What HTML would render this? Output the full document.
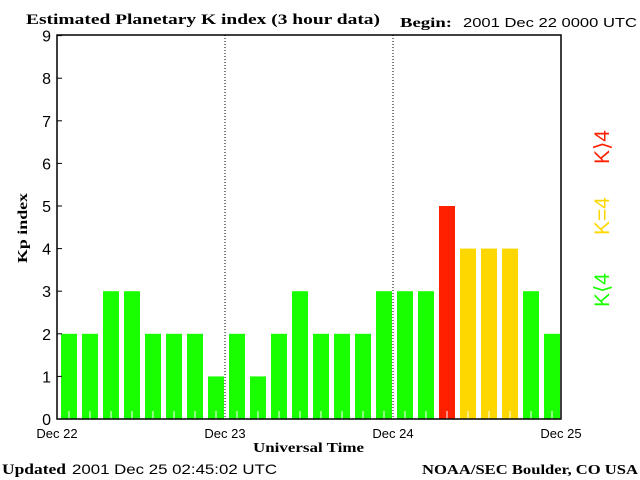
<!DOCTYPE html>
<html><head><meta charset="utf-8"><style>
body{margin:0;background:#fff;width:640px;height:480px;overflow:hidden}
svg{display:block}
.serif{font-family:"Liberation Serif",serif;font-weight:bold}
.sans{font-family:"Liberation Sans",sans-serif}
</style></head><body>
<svg width="640" height="480">
<text x="26" y="24" class="serif" font-size="15" textLength="354" lengthAdjust="spacingAndGlyphs">Estimated Planetary K index (3 hour data)</text>
<text x="400" y="27" class="serif" font-size="14" textLength="52" lengthAdjust="spacingAndGlyphs">Begin:</text>
<text x="463" y="27" class="sans" font-size="13" textLength="174" lengthAdjust="spacingAndGlyphs">2001 Dec 22 0000 UTC</text>
<g id="plot"></g>
<text transform="translate(27,228) rotate(-90)" text-anchor="middle" class="serif" font-size="14" textLength="70" lengthAdjust="spacingAndGlyphs">Kp index</text>
<text x="253" y="452" class="serif" font-size="14" textLength="111" lengthAdjust="spacingAndGlyphs">Universal Time</text>
<text x="2" y="474" class="serif" font-size="15" textLength="64" lengthAdjust="spacingAndGlyphs">Updated</text>
<text x="72" y="474" class="sans" font-size="14" textLength="205" lengthAdjust="spacingAndGlyphs">2001 Dec 25 02:45:02 UTC</text>
<text x="422" y="474" class="serif" font-size="14" textLength="216" lengthAdjust="spacingAndGlyphs">NOAA/SEC Boulder, CO USA</text>
<text transform="translate(609,290) rotate(-90)" text-anchor="middle" class="sans" font-size="21" fill="#1aff00">K⟨4</text>
<text transform="translate(609,216) rotate(-90)" text-anchor="middle" class="sans" font-size="21" fill="#ffd700">K=4</text>
<text transform="translate(609,147) rotate(-90)" text-anchor="middle" class="sans" font-size="21" fill="#ff2000">K⟩4</text>
</svg>
<script>
const kpValues=[2,2,3,3,2,2,2,1, 2,1,2,3,2,2,2,3, 3,3,5,4,4,4,3,2];
const dayLabels=["Dec 22","Dec 23","Dec 24","Dec 25"];
const yTicks=[0,1,2,3,4,5,6,7,8,9];
const NS="http://www.w3.org/2000/svg";
const g=document.getElementById('plot');
const L=57,R=561,T=35,B=419,YS=42.6;
const slot=(R-L)/kpValues.length;
const y=v=>B-v*YS, x=i=>L+i*slot;
function mk(t,a){const e=document.createElementNS(NS,t);for(const k in a)e.setAttribute(k,a[k]);g.appendChild(e);return e;}
kpValues.forEach((v,i)=>{
 const c=v>4?'#ff2000':(v==4?'#ffd700':'#1aff00');
 const r=mk('rect',{x:x(i)+4,y:y(v),width:16,height:B-y(v),fill:c});
 
 
 const t=mk('line',{x1:x(i)+12,x2:x(i)+12,y1:B-8,y2:B,stroke:'#fff'});
 
 
});
[1,2].forEach(d=>{const l=mk('line',{x1:L+d*8*slot,x2:L+d*8*slot,y1:T,y2:B,stroke:'#000','stroke-dasharray':'1,2'});
 
 });
const f=mk('rect',{x:L,y:T,width:R-L,height:B-T,fill:'none',stroke:'#000','stroke-width':1.5});


yTicks.forEach(v=>{
 const l=mk('line',{x1:L,x2:L+5,y1:y(v),y2:y(v),stroke:'#000'});
 
 
 const t=mk('text',{x:L-6,y:y(v)+6,'text-anchor':'end','font-family':'Liberation Sans,sans-serif','font-size':16});
 t.textContent=v;
 
 
});
dayLabels.forEach((d,i)=>{
 const t=mk('text',{x:L+i*8*slot,y:438,'text-anchor':'middle','font-family':'Liberation Sans,sans-serif','font-size':13});
 t.textContent=d;
 
 
});
</script>
</body></html>
